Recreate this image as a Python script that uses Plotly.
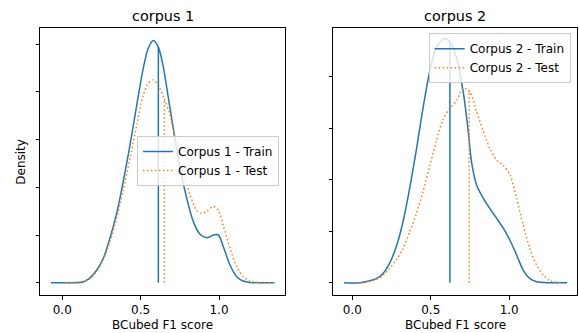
import plotly.graph_objects as go

BLUE = "#1f77b4"
ORANGE = "#ff7f0e"
FONT = "DejaVu Sans"
DOT = "1.5px,2.5px"

# ---- data (density units arbitrary, tick step 0.5) ----
c1_train_x = [-0.072, 0.05, 0.134, 0.177, 0.219, 0.262, 0.304, 0.347, 0.389, 0.432, 0.475,
              0.517, 0.549, 0.581, 0.613, 0.645, 0.666, 0.708, 0.751, 0.794, 0.836, 0.879,
              0.922, 0.964, 0.996, 1.027, 1.07, 1.113, 1.155, 1.198, 1.27, 1.353]
c1_train_y = [0.0, 0.0, 0.008, 0.05, 0.13, 0.256, 0.465, 0.727, 1.06, 1.44, 1.86,
              2.25, 2.46, 2.54, 2.47, 2.26, 2.05, 1.62, 1.2, 0.885, 0.64, 0.507,
              0.47, 0.5, 0.5, 0.38, 0.186, 0.063, 0.018, 0.003, 0.0, 0.0]

c1_test_x = [0.02, 0.1, 0.177, 0.219, 0.262, 0.304, 0.347, 0.389, 0.432, 0.475, 0.517,
             0.549, 0.581, 0.613, 0.645, 0.687, 0.73, 0.772, 0.815, 0.857, 0.889, 0.922,
             0.964, 0.996, 1.027, 1.07, 1.113, 1.155, 1.198, 1.26, 1.336]
c1_test_y = [0.0, 0.008, 0.04, 0.115, 0.24, 0.43, 0.675, 0.97, 1.3, 1.65, 1.97,
             2.09, 2.125, 2.07, 1.95, 1.76, 1.44, 1.16, 0.92, 0.76, 0.727, 0.75,
             0.8, 0.76, 0.6, 0.36, 0.17, 0.063, 0.015, 0.0, 0.0]

c2_train_x = [-0.053, 0.05, 0.111, 0.153, 0.196, 0.238, 0.28, 0.323, 0.366, 0.408, 0.45,
              0.493, 0.535, 0.588, 0.631, 0.665, 0.707, 0.739, 0.76, 0.792, 0.835, 0.877,
              0.92, 0.962, 1.004, 1.047, 1.089, 1.132, 1.175, 1.25, 1.369]
c2_train_y = [0.0, 0.0, 0.02, 0.04, 0.09, 0.19, 0.35, 0.59, 0.92, 1.29, 1.69,
              2.05, 2.28, 2.37, 2.32, 2.18, 1.85, 1.47, 1.17, 0.95, 0.82, 0.72,
              0.625, 0.53, 0.415, 0.27, 0.123, 0.04, 0.01, 0.0, 0.0]

c2_test_x = [0.03, 0.1, 0.153, 0.196, 0.238, 0.28, 0.323, 0.366, 0.408, 0.45, 0.493,
             0.535, 0.577, 0.62, 0.665, 0.707, 0.75, 0.792, 0.835, 0.877, 0.92, 0.962,
             1.004, 1.047, 1.089, 1.132, 1.175, 1.217, 1.26, 1.34]
c2_test_y = [0.0, 0.01, 0.03, 0.07, 0.14, 0.22, 0.33, 0.495, 0.67, 0.88, 1.13,
             1.37, 1.58, 1.69, 1.77, 1.89, 1.85, 1.66, 1.47, 1.30, 1.19, 1.14,
             1.05, 0.82, 0.56, 0.33, 0.17, 0.075, 0.02, 0.0]

# vertical marker lines (position, height)
c1_train_mark = [0.613, 2.47]
c1_test_mark = [0.651, 1.93]
c2_train_mark = [0.622, 2.34]
c2_test_mark = [0.745, 1.87]

titles = ["corpus 1", "corpus 2"]
names1 = ["Corpus 1 - Train", "Corpus 1 - Test"]
names2 = ["Corpus 2 - Train", "Corpus 2 - Test"]
xtick_vals = [0.0, 0.5, 1.0]
xtick_text = ["0.0", "0.5", "1.0"]
ytick_vals1 = [0, 0.5, 1.0, 1.5, 2.0, 2.5]
ytick_vals2 = [0, 0.5, 1.0, 1.5, 2.0]

W, H = 579, 333
fig = go.Figure()


def add_panel(xa, ya, tx, ty, sx, sy, tmark, smark, names, legend):
    fig.add_trace(go.Scatter(x=tx, y=ty, mode="lines", name=names[0], xaxis=xa, yaxis=ya,
                             line=dict(color=BLUE, width=1.5, shape="spline", smoothing=0.8),
                             legend=legend))
    fig.add_trace(go.Scatter(x=sx, y=sy, mode="lines", name=names[1], xaxis=xa, yaxis=ya,
                             line=dict(color=ORANGE, width=1.5, dash=DOT, shape="spline", smoothing=0.8),
                             legend=legend))
    fig.add_trace(go.Scatter(x=[tmark[0], tmark[0]], y=[0, tmark[1]], mode="lines", xaxis=xa, yaxis=ya,
                             line=dict(color=BLUE, width=1.5), showlegend=False, legend=legend))
    fig.add_trace(go.Scatter(x=[smark[0], smark[0]], y=[0, smark[1]], mode="lines", xaxis=xa, yaxis=ya,
                             line=dict(color=ORANGE, width=1.5, dash=DOT), showlegend=False, legend=legend))


add_panel("x", "y", c1_train_x, c1_train_y, c1_test_x, c1_test_y, c1_train_mark, c1_test_mark, names1, "legend")
add_panel("x2", "y2", c2_train_x, c2_train_y, c2_test_x, c2_test_y, c2_train_mark, c2_test_mark, names2, "legend2")

ax_common = dict(showline=True, linecolor="black", linewidth=1, mirror=True, showgrid=False,
                 zeroline=False, ticks="outside", ticklen=3.5, tickwidth=1, tickcolor="black",
                 tickfont=dict(family=FONT, size=12))

L1, R1 = 40 / W, 285 / W
L2, R2 = 333.3 / W, 576.7 / W
B, T = 1 - 295 / H, 1 - 28 / H

fig.update_layout(
    width=W, height=H, margin=dict(l=0, r=0, t=0, b=0),
    paper_bgcolor="white", plot_bgcolor="white",
    font=dict(family=FONT, size=12, color="black"),
    xaxis=dict(domain=[L1, R1], range=[-0.142, 1.421], tickvals=xtick_vals, ticktext=xtick_text,
               anchor="y", **ax_common),
    yaxis=dict(domain=[B, T], range=[-0.129, 2.67], tickvals=ytick_vals1, showticklabels=False,
               anchor="x", **ax_common),
    xaxis2=dict(domain=[L2, R2], range=[-0.121, 1.43], tickvals=xtick_vals, ticktext=xtick_text,
                anchor="y2", **ax_common),
    yaxis2=dict(domain=[B, T], range=[-0.119, 2.473], tickvals=ytick_vals2, showticklabels=False,
                anchor="x2", **ax_common),
    legend=dict(x=279 / W, y=1 - 161 / H, xanchor="right", yanchor="middle",
                bgcolor="rgba(255,255,255,0.8)", bordercolor="#cccccc", borderwidth=1,
                font=dict(family=FONT, size=12), tracegroupgap=0),
    legend2=dict(x=570.7 / W, y=1 - 33.3 / H, xanchor="right", yanchor="top",
                 bgcolor="rgba(255,255,255,0.8)", bordercolor="#cccccc", borderwidth=1,
                 font=dict(family=FONT, size=12), tracegroupgap=0),
    showlegend=True,
)

annotations = [
    dict(text=titles[0], x=(L1 + R1) / 2, y=1 - 16 / H, xref="paper", yref="paper",
         showarrow=False, font=dict(family=FONT, size=14.4), xanchor="center", yanchor="middle"),
    dict(text=titles[1], x=(L2 + R2) / 2, y=1 - 16 / H, xref="paper", yref="paper",
         showarrow=False, font=dict(family=FONT, size=14.4), xanchor="center", yanchor="middle"),
    dict(text="BCubed F1 score", x=(L1 + R1) / 2, y=1 - 324.5 / H, xref="paper", yref="paper",
         showarrow=False, font=dict(family=FONT, size=12), xanchor="center", yanchor="middle"),
    dict(text="BCubed F1 score", x=(L2 + R2) / 2, y=1 - 324.5 / H, xref="paper", yref="paper",
         showarrow=False, font=dict(family=FONT, size=12), xanchor="center", yanchor="middle"),
    dict(text="Density", x=20.7 / W, y=1 - 162 / H, xref="paper", yref="paper", textangle=-90,
         showarrow=False, font=dict(family=FONT, size=12), xanchor="center", yanchor="middle"),
]
fig.update_layout(annotations=annotations)

fig.write_html("out.html")
